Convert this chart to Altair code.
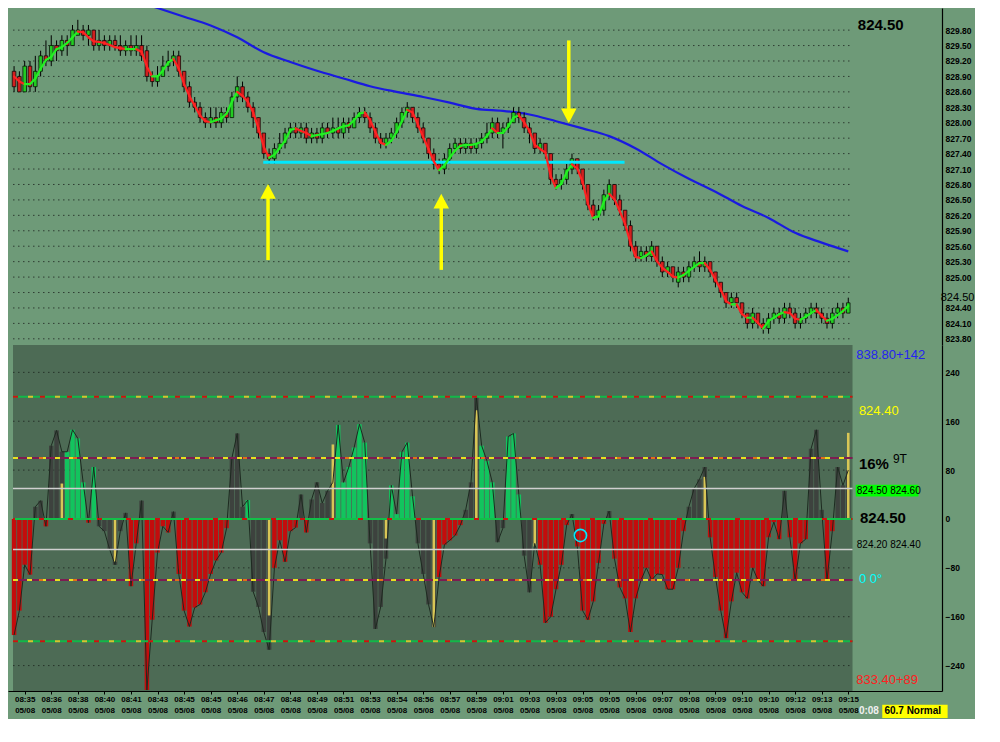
import altair as alt
import pandas as pd

# ---------------- data ----------------
bar_index = list(range(-2, 156))

opens = [
    829.0, 828.9, 828.6, 829.1, 828.7, 829.0, 829.3, 829.2, 829.5, 829.4,
    829.6, 829.5, 829.7, 829.8, 829.7, 829.8, 829.5, 829.6, 829.5, 829.6,
    829.5, 829.4, 829.5, 829.4, 829.5, 829.4, 828.9, 828.8, 828.9, 829.1,
    829.2, 829.3, 829.0, 828.7, 828.4, 828.3, 828.1, 828.0, 828.1, 828.0,
    828.2, 828.1, 828.5, 828.7, 828.5, 828.3, 828.1, 827.8, 827.4, 827.3,
    827.5, 827.6, 827.8, 827.9, 827.8, 827.9, 827.7, 827.8, 827.7, 827.9,
    827.8, 827.9, 827.8, 828.0, 827.9, 828.1, 828.2, 828.1, 827.9, 827.7,
    827.6, 827.7, 827.8, 828.0, 828.2, 828.3, 828.1, 827.9, 827.7, 827.4,
    827.2, 827.1, 827.3, 827.5, 827.6, 827.5, 827.6, 827.5, 827.6, 827.7,
    827.8, 828.0, 827.8, 827.9, 828.0, 828.2, 828.1, 827.9, 827.8, 827.5,
    827.6, 827.4, 826.9, 826.8, 826.9, 827.1, 827.3, 827.1, 826.8, 826.4,
    826.2, 826.3, 826.6, 826.8, 826.5, 826.3, 826.0, 825.6, 825.4, 825.5,
    825.4, 825.6, 825.3, 825.1, 825.2, 824.9, 825.1, 825.0, 825.2, 825.3,
    825.2, 825.3, 825.1, 824.9, 824.7, 824.5, 824.6, 824.5, 824.3, 824.1,
    824.3, 824.1, 824.0, 824.2, 824.3, 824.2, 824.4, 824.3, 824.1, 824.2,
    824.3, 824.4, 824.3, 824.2, 824.1, 824.3, 824.4, 824.3,
]
closes = [
    828.7, 828.6, 829.1, 828.7, 829.0, 829.3, 829.2, 829.5, 829.4, 829.6,
    829.5, 829.8, 829.8, 829.7, 829.8, 829.5, 829.6, 829.5, 829.6, 829.5,
    829.4, 829.5, 829.4, 829.5, 829.3, 828.9, 828.8, 828.9, 829.1, 829.2,
    829.3, 829.0, 828.7, 828.4, 828.3, 828.1, 828.0, 828.1, 828.0, 828.2,
    828.1, 828.5, 828.7, 828.5, 828.3, 828.1, 827.8, 827.4, 827.3, 827.5,
    827.6, 827.8, 827.9, 827.8, 827.9, 827.7, 827.8, 827.7, 827.9, 827.8,
    827.9, 827.8, 828.0, 827.9, 828.1, 828.2, 828.1, 827.9, 827.7, 827.6,
    827.7, 827.8, 828.0, 828.2, 828.3, 828.1, 827.9, 827.7, 827.4, 827.2,
    827.1, 827.3, 827.5, 827.6, 827.5, 827.6, 827.5, 827.6, 827.7, 827.8,
    828.0, 827.8, 827.9, 828.0, 828.2, 828.1, 827.9, 827.8, 827.5, 827.6,
    827.4, 826.9, 826.8, 826.9, 827.1, 827.3, 827.1, 826.8, 826.4, 826.2,
    826.3, 826.6, 826.8, 826.5, 826.3, 826.0, 825.6, 825.4, 825.5, 825.4,
    825.6, 825.3, 825.1, 825.2, 825.0, 825.1, 825.0, 825.2, 825.3, 825.2,
    825.3, 825.1, 824.9, 824.7, 824.5, 824.6, 824.5, 824.3, 824.1, 824.3,
    824.1, 824.0, 824.2, 824.3, 824.2, 824.4, 824.3, 824.1, 824.2, 824.3,
    824.4, 824.3, 824.2, 824.1, 824.3, 824.4, 824.3, 824.5,
]
highs = [
    829.1, 829.0, 829.2, 829.2, 829.3, 829.4, 829.6, 829.7, 829.6, 829.7,
    829.7, 829.9, 830.0, 829.9, 829.9, 829.8, 829.8, 829.7, 829.7, 829.7,
    829.7, 829.6, 829.7, 829.7, 829.7, 829.5, 829.0, 829.1, 829.3, 829.4,
    829.4, 829.4, 829.0, 828.8, 828.5, 828.4, 828.2, 828.3, 828.3, 828.3,
    828.3, 828.6, 828.9, 828.8, 828.6, 828.4, 828.1, 827.8, 827.5, 827.6,
    827.8, 827.9, 828.0, 828.0, 828.0, 828.0, 827.9, 827.9, 828.0, 828.0,
    828.1, 828.1, 828.1, 828.1, 828.2, 828.3, 828.3, 828.2, 828.0, 827.8,
    827.8, 827.9, 828.1, 828.3, 828.4, 828.3, 828.2, 828.0, 827.7, 827.5,
    827.3, 827.4, 827.6, 827.7, 827.7, 827.7, 827.7, 827.7, 827.8, 828.0,
    828.1, 828.1, 828.0, 828.1, 828.3, 828.3, 828.2, 828.0, 827.8, 827.7,
    827.6, 827.4, 827.0, 827.0, 827.2, 827.4, 827.3, 827.1, 826.8, 826.5,
    826.4, 826.7, 826.9, 826.8, 826.6, 826.3, 826.1, 825.7, 825.6, 825.6,
    825.7, 825.6, 825.4, 825.3, 825.2, 825.2, 825.2, 825.3, 825.4, 825.5,
    825.4, 825.3, 825.1, 824.9, 824.7, 824.7, 824.7, 824.5, 824.3, 824.4,
    824.3, 824.2, 824.3, 824.4, 824.4, 824.5, 824.5, 824.4, 824.3, 824.4,
    824.5, 824.5, 824.4, 824.3, 824.4, 824.5, 824.5, 824.6,
]
lows = [
    828.6, 828.6, 828.6, 828.6, 828.6, 828.9, 829.1, 829.1, 829.2, 829.3,
    829.3, 829.5, 829.7, 829.6, 829.5, 829.4, 829.4, 829.4, 829.4, 829.4,
    829.3, 829.3, 829.3, 829.3, 829.2, 828.8, 828.7, 828.7, 828.9, 829.0,
    829.1, 828.9, 828.6, 828.3, 828.2, 828.0, 827.9, 827.9, 827.9, 827.9,
    828.0, 828.1, 828.4, 828.4, 828.2, 827.9, 827.7, 827.3, 827.2, 827.2,
    827.4, 827.5, 827.7, 827.7, 827.7, 827.6, 827.6, 827.6, 827.6, 827.7,
    827.7, 827.7, 827.7, 827.8, 827.9, 828.0, 828.0, 827.8, 827.6, 827.5,
    827.5, 827.6, 827.7, 827.9, 828.1, 828.0, 827.8, 827.6, 827.3, 827.1,
    827.0, 827.0, 827.2, 827.4, 827.4, 827.4, 827.4, 827.4, 827.5, 827.6,
    827.7, 827.7, 827.5, 827.8, 828.0, 828.0, 827.8, 827.6, 827.4, 827.4,
    827.3, 826.8, 826.7, 826.7, 826.8, 827.0, 827.0, 826.7, 826.3, 826.1,
    826.1, 826.2, 826.5, 826.4, 826.2, 825.9, 825.5, 825.3, 825.3, 825.3,
    825.3, 825.2, 825.0, 825.0, 824.9, 824.8, 824.9, 824.9, 825.1, 825.1,
    825.1, 825.0, 824.8, 824.6, 824.4, 824.4, 824.4, 824.2, 824.0, 824.0,
    824.0, 823.9, 823.9, 824.1, 824.1, 824.1, 824.2, 824.0, 824.0, 824.1,
    824.2, 824.2, 824.1, 824.0, 824.0, 824.2, 824.2, 824.3,
]
smooth = [
    828.90, 828.80, 828.75, 828.75, 828.86, 829.05, 829.22, 829.28, 829.43, 829.47,
    829.55, 829.66, 829.77, 829.76, 829.66, 829.58, 829.57, 829.55, 829.51, 829.47,
    829.45, 829.43, 829.43, 829.43, 829.38, 829.09, 828.90, 828.90, 829.01, 829.17,
    829.24, 829.05, 828.75, 828.52, 828.33, 828.14, 828.03, 828.01, 828.05, 828.08,
    828.18, 828.41, 828.60, 828.52, 828.41, 828.20, 827.89, 827.53, 827.32, 827.38,
    827.51, 827.65, 827.86, 827.89, 827.84, 827.80, 827.74, 827.76, 827.78, 827.80,
    827.84, 827.89, 827.93, 827.95, 828.05, 828.18, 828.20, 828.05, 827.82, 827.61,
    827.57, 827.65, 827.82, 828.03, 828.25, 828.20, 827.97, 827.72, 827.49, 827.25,
    827.08, 827.17, 827.32, 827.46, 827.55, 827.57, 827.57, 827.59, 827.63, 827.74,
    827.89, 827.80, 827.80, 827.93, 828.10, 828.14, 828.01, 827.84, 827.57, 827.49,
    827.42, 826.96, 826.73, 826.81, 827.04, 827.19, 827.11, 826.85, 826.43, 826.15,
    826.18, 826.47, 826.62, 826.51, 826.28, 826.03, 825.67, 825.39, 825.37, 825.42,
    825.50, 825.31, 825.18, 825.10, 825.01, 824.99, 825.04, 825.12, 825.20, 825.27,
    825.27, 825.14, 824.95, 824.76, 824.53, 824.47, 824.47, 824.28, 824.21, 824.21,
    824.11, 824.00, 824.15, 824.21, 824.28, 824.32, 824.30, 824.19, 824.17, 824.23,
    824.30, 824.36, 824.25, 824.15, 824.19, 824.26, 824.34, 824.44,
]
ma_index = list(range(0, 156, 5))
ma_value = [
    831.08, 830.91, 830.74, 830.57, 830.40, 830.23, 830.06, 829.89, 829.66, 829.37,
    829.18, 829.01, 828.86, 828.71, 828.60, 828.50, 828.39, 828.27, 828.23, 828.16,
    828.03, 827.89, 827.74, 827.50, 827.19, 826.91, 826.66, 826.38, 826.15, 825.86,
    825.67, 825.50,
]
osc_value = [
    -190, -150, -75, -91, 20, 30, -12, 120, 145, 110,
    110, 146, 132, 60, -6, 85, -12, -20, -50, -75,
    -20, 10, -110, -40, 30, -280, -165, -55, -12, -22,
    12, -90, -150, -176, -145, -140, -120, -90, -68, -55,
    -15, 100, 140, 20, 31, -119, -144, -185, -214, -80,
    -35, -70, -20, -14, 40, -22, 32, 60, 26, 46,
    60, 154, 60, 85, 117, 155, 125, -40, -180, -144,
    -65, 55, 8, 110, 125, 37, -40, -90, -140, -177,
    -95, -42, -35, -27, -10, 15, 60, 200, 120, 95,
    60, -38, -15, 135, 140, 40, -60, -120, -40, -75,
    -170, -160, -115, -75, -10, 8, -45, -150, -165, -135,
    -72, -8, 13, -65, -112, -130, -185, -130, -100, -80,
    -100, -90, -91, -115, -115, -80, -20, 20, 50, 65,
    85, -30, -95, -150, -195, -135, -88, -120, -130, -80,
    -100, -110, -30, -5, -33, 46, -30, -100, -40, -33,
    115, 146, 15, -100, -20, 85, 55, 80,
]
osc_colour = list(
    "RRRRKKRKKK" "GGGGRGKKKK" "KKRRKRRRRR" "KRRRRRRRRR" "RKKKGKKKKR"
    "RRRRKRKKKK" "KGGGGGGKKK" "KGGGGGKKKK" "RRRRRKKKGG" "GKKGGGKKKR"
    "RRRRRKRRRR" "RRKRRRRRRR" "RRRRRRRKKK" "KRRRRRRRRR" "RRRRRKRRRR"
    "KKKRRKKK"
)
yellow_index = [7, 17, 46, 58, 68, 77, 85, 96, 128, 155]
yellow_value = [58, -70, -158, 122, -32, -177, 178, -45, 69, 141]

time_labels = ["08:35", "08:36", "08:38", "08:40", "08:41", "08:43", "08:45", "08:45",
               "08:46", "08:47", "08:48", "08:49", "08:51", "08:53", "08:54", "08:56",
               "08:57", "08:59", "09:01", "09:03", "09:03", "09:05", "09:05", "09:06",
               "09:07", "09:08", "09:09", "09:10", "09:10", "09:12", "09:13", "09:15"]
date_label = "05/08"
price_ticks = [829.8, 829.5, 829.2, 828.9, 828.6, 828.3, 828.0, 827.7, 827.4, 827.1,
               826.8, 826.5, 826.2, 825.9, 825.6, 825.3, 825.0, 824.4, 824.1, 823.8]
price_grid = price_ticks + [824.7]
osc_ticks = [240, 160, 80, 0, -80, -160, -240]
osc_grid = [240, 160, 80, -80, -160, -240]
level_outer = [200, -200]
level_mid = [100, -100]
level_white = [50, -50]
level_zero = [0]

support_level = [827.23]
support_from = [44.9]
support_to = [112.9]
arrow_index = [45.8, 78.4, 102.4]
arrow_tail = [825.33, 825.14, 829.60]
arrow_shaft_end = [826.66, 826.47, 828.14]
arrow_tip = [826.81, 826.62, 827.99]
arrow_dir = ["up", "up", "down"]

# ---------------- layout / style ----------------
FONT = "Liberation Sans, Arial, Helvetica, sans-serif"
BG = "#6e9a78"
PANEL = "#4d6b55"
W = 934
H_TOP = 337
H_LOW = 346
X0, X_END, PANEL_END = -2.2, 171.7, 155.8

xs = alt.Scale(domain=[X0, X_END], nice=False, zero=False)
ps = alt.Scale(domain=[823.68, 830.23], nice=False, zero=False)
vs = alt.Scale(domain=[-281.6, 284.8], nice=False, zero=False)

times_js = "[" + ",".join("'%s'" % t for t in time_labels) + "]"
label_expr = "[%s[round(datum.value / 5)], '%s']" % (times_js, date_label)

price_axis = dict(orient="right", values=price_ticks, format=".2f", labelFont=FONT,
                  labelFontSize=8.5, labelFontWeight="bold", labelColor="#000000",
                  ticks=False, domain=True, domainColor="#000000", domainWidth=1.2,
                  grid=False, title=None, labelPadding=3, labelOverlap=False)
osc_axis = dict(orient="right", values=osc_ticks, format="d", labelFont=FONT,
                labelFontSize=8.5, labelFontWeight="bold", labelColor="#000000",
                ticks=False, domain=True, domainColor="#000000", domainWidth=1.2,
                grid=False, title=None, labelPadding=3, labelOverlap=False)
time_axis = dict(orient="bottom", values=list(range(0, 156, 5)), labelExpr=label_expr,
                 labelFont=FONT, labelFontSize=8, labelFontWeight="bold", labelColor="#000000",
                 tickColor="#000000", tickSize=3, domainColor="#000000", domainWidth=1.2,
                 labelPadding=1, labelLineHeight=11, grid=False, title=None,
                 labelOverlap=False, labelFlush=False, labelBound=False)

# top panel encodings (same axis spec in every layer)
def TX(field):
    return alt.X(field, type="quantitative", scale=xs, axis=None)

def TY(field):
    return alt.Y(field, type="quantitative", scale=ps, axis=alt.Axis(**price_axis))

# lower panel encodings
def LX(field):
    return alt.X(field, type="quantitative", scale=xs, axis=alt.Axis(**time_axis))

def LY(field):
    return alt.Y(field, type="quantitative", scale=vs, axis=alt.Axis(**osc_axis))

UP_BODY, DOWN_BODY = "#22cc22", "#d02020"
UP_LINE, DOWN_LINE = "#22f022", "#ff2222"
OSC_COLOURS = {"R": "#c40c0c", "G": "#12c45e", "K": "#3d423e"}

candles = pd.DataFrame({"i": bar_index, "o": opens, "c": closes, "h": highs, "l": lows})
candles["col"] = [UP_BODY if c > o else DOWN_BODY for o, c in zip(opens, closes)]

seg = pd.DataFrame({"i": bar_index[:-1], "i2": bar_index[1:], "s": smooth[:-1], "s2": smooth[1:]})
seg["col"] = [UP_LINE if b >= a else DOWN_LINE for a, b in zip(smooth[:-1], smooth[1:])]

ma = pd.DataFrame({"i": ma_index, "m": ma_value})

grid_top = alt.Chart(pd.DataFrame({"p": price_grid, "x0": X0, "x1": PANEL_END})).mark_rule(
    color="#2f3d33", strokeWidth=1, strokeDash=[1.5, 3.5]
).encode(x=TX("x0"), x2="x1", y=TY("p"))

ma_line = alt.Chart(ma).mark_line(color="#1a1ae0", strokeWidth=2.2, clip=True,
                                  interpolate="monotone").encode(x=TX("i"), y=TY("m"))

wicks = alt.Chart(candles).mark_rule(color="#000000", strokeWidth=1).encode(
    x=TX("i"), y=TY("l"), y2="h")
bodies = alt.Chart(candles).mark_bar(size=3.6, stroke="#000000", strokeWidth=0.7).encode(
    x=TX("i"), y=TY("o"), y2="c", color=alt.Color("col:N", scale=None))

support = alt.Chart(pd.DataFrame({"p": support_level, "a": support_from, "b": support_to})).mark_rule(
    color="#00e8ff", strokeWidth=3).encode(x=TX("a"), x2="b", y=TY("p"))

smooth_line = alt.Chart(seg).mark_rule(strokeWidth=2.2, strokeCap="round").encode(
    x=TX("i"), x2="i2", y=TY("s"), y2="s2", color=alt.Color("col:N", scale=None))

arrows = pd.DataFrame({"i": arrow_index, "tail": arrow_tail, "end": arrow_shaft_end,
                       "tip": arrow_tip, "dir": arrow_dir})
shafts = alt.Chart(arrows).mark_rule(color="#ffff00", strokeWidth=3.5).encode(
    x=TX("i"), y=TY("tail"), y2="end")
heads = alt.Chart(arrows).mark_point(filled=True, opacity=1, size=240, color="#ffff00").encode(
    x=TX("i"), y=TY("tip"),
    shape=alt.Shape("dir:N", scale=alt.Scale(domain=["up", "down"],
                                             range=["M0,0L-1,1.9L1,1.9Z", "M0,0L-1,-1.9L1,-1.9Z"]),
                    legend=None))

top_big = alt.Chart(pd.DataFrame({"x": [156.8], "p": [829.90], "t": ["824.50"]})).mark_text(
    font=FONT, fontSize=15, fontWeight="bold", color="#000000", align="left", baseline="middle"
).encode(x=TX("x"), y=TY("p"), text="t:N")
axis_marker = alt.Chart(pd.DataFrame({"x": [172.4], "p": [824.50], "t": ["824.50"]})).mark_text(
    font=FONT, fontSize=11, color="#000000", align="left", baseline="middle", dy=-5
).encode(x=TX("x"), y=TY("p"), text="t:N")

top = alt.layer(grid_top, ma_line, wicks, bodies, support, smooth_line, shafts, heads,
                top_big, axis_marker).properties(width=W, height=H_TOP)

# ---------------- lower panel ----------------
panel = alt.Chart(pd.DataFrame({"x0": [X0], "x1": [PANEL_END], "v0": [-281.6], "v1": [284.8]})).mark_rect(
    color=PANEL).encode(x=LX("x0"), x2="x1", y=LY("v0"), y2="v1")

def hrule(levels, color, width, dash=None, offset=0):
    kw = dict(color=color, strokeWidth=width)
    if dash:
        kw["strokeDash"] = dash
        kw["strokeDashOffset"] = offset
    return alt.Chart(pd.DataFrame({"v": levels, "x0": X0, "x1": PANEL_END})).mark_rule(**kw).encode(
        x=LX("x0"), x2="x1", y=LY("v"))

osc = pd.DataFrame({"i": bar_index, "v": osc_value, "z": 0})
osc["col"] = [OSC_COLOURS[k] for k in osc_colour]
osc_bars = alt.Chart(osc).mark_bar(size=4.5).encode(
    x=LX("i"), y=LY("v"), y2="z", color=alt.Color("col:N", scale=None))
osc_outline = alt.Chart(osc).mark_line(color="#1d2a20", strokeWidth=1).encode(x=LX("i"), y=LY("v"))
yellow = alt.Chart(pd.DataFrame({"i": yellow_index, "v": yellow_value, "z": 0})).mark_bar(
    size=2.6, color="#d8c656").encode(x=LX("i"), y=LY("v"), y2="z")

circle = alt.Chart(pd.DataFrame({"i": [104.6], "v": [-27]})).mark_point(
    shape="circle", size=150, filled=False, color="#00e8ff", strokeWidth=1.6, opacity=1
).encode(x=LX("i"), y=LY("v"))

boxes = alt.Chart(pd.DataFrame({
    "a": [156.4, 161.4], "b": [168.2, 173.7], "v0": [56, -304], "v1": [36.8, -326],
    "c": ["#00ff00", "#ffff00"]})).mark_rect().encode(
    x=LX("a"), x2="b", y=LY("v0"), y2="v1", color=alt.Color("c:N", scale=None))

info_regular = pd.DataFrame({
    "x": [156.5, 157.0, 163.4, 156.6, 156.6, 157.0, 156.5],
    "v": [268.8, 176.0, 97.6, 46.4, -43.0, -99.0, -264.0],
    "t": ["838.80+142", "824.40", "9T", "824.50 824.60", "824.20 824.40", "0  0°", "833.40+89"],
    "c": ["#2424f0", "#ffff00", "#000000", "#000000", "#000000", "#00ffff", "#ff2020"],
    "s": [13, 13, 12, 10, 10, 13, 13]})
info_bold = pd.DataFrame({
    "x": [157.0, 157.2, 157.0, 161.8],
    "v": [89.6, 1.6, -315.0, -315.0],
    "t": ["16%", "824.50", "0:08", "60.7 Normal"],
    "c": ["#000000", "#000000", "#f0f0f0", "#000000"],
    "s": [15, 15, 10, 10]})

def texts(df, weight):
    return alt.Chart(df).mark_text(font=FONT, fontWeight=weight, align="left", baseline="middle").encode(
        x=LX("x"), y=LY("v"), text="t:N", color=alt.Color("c:N", scale=None),
        size=alt.Size("s:Q", scale=None))

low = alt.layer(
    panel,
    hrule(osc_grid, "#27322a", 1, [1.5, 3.5]),
    osc_bars, yellow, osc_outline,
    hrule(level_white, "#cfcfcf", 1.4),
    hrule(level_outer, "#12b848", 2),
    hrule(level_outer, "#d01010", 2, [5, 22], 0),
    hrule(level_outer, "#d8c030", 2, [5, 22], 12),
    hrule(level_mid, "#7c1c52", 2),
    hrule(level_mid, "#e8e020", 2, [5, 9], 0),
    hrule(level_mid, "#e07018", 2, [4, 30], 8),
    hrule(level_zero, "#12c048", 2.2),
    hrule(level_zero, "#d01010", 2.2, [5, 24], 3),
    circle, boxes, texts(info_regular, "normal"), texts(info_bold, "bold"),
).properties(width=W, height=H_LOW)

chart = alt.vconcat(top, low, spacing=0, padding=0).configure(
    background=BG).configure_view(stroke=None)

chart.save("out.html", embed_options={"renderer": "svg", "actions": False})
